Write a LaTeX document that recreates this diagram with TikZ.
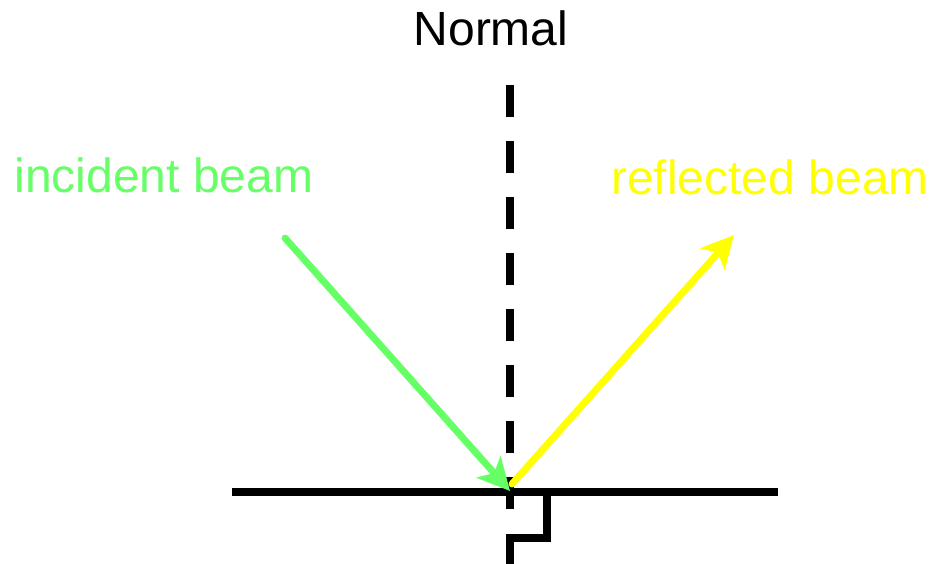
\documentclass[tikz,border=0pt]{standalone}
\usepackage{fontspec}
\setmainfont{Liberation Sans}
\usetikzlibrary{arrows.meta}
\definecolor{incgreen}{HTML}{66FF66}
\definecolor{refyellow}{HTML}{FFFF00}
\begin{document}
\begin{tikzpicture}[x=1pt,y=-1pt,
  lbl/.style={font=\fontsize{48}{50}\selectfont, inner sep=0pt},
  beam/.style={line width=7pt, line cap=round, -{Stealth[length=32pt,width=32pt,inset=8pt]}},
  solidline/.style={line width=8pt, black}]
\useasboundingbox (0,0) rectangle (945,564);
\node[lbl, text=black] (normal) at (491,28) {Normal};
\node[lbl, text=incgreen] (inc) at (164,175) {incident beam};
\node[lbl, text=refyellow] (ref) at (770,177) {reflected beam};
\coordinate (ntop) at (510,85);
\coordinate (nbot) at (510,520);
\coordinate (sl) at (232,492);
\coordinate (sr) at (778,492);
\coordinate (hit) at (510,491);
\coordinate (istart) at (285,238);
\coordinate (rend) at (734,235);
\coordinate (rstart) at (512,484);
\coordinate (m1) at (547,492);
\coordinate (m2) at (547,538);
\coordinate (m3) at (510,538);
\coordinate (m4) at (510,564);
\draw[line width=8pt, black, dash pattern=on 32pt off 24pt] (ntop) -- (nbot);
\draw[solidline] (sl) -- (sr);
\draw[solidline] (m1) -- (m2) -- (m3) -- (m4);
\draw[beam, incgreen] (istart) -- (hit);
\draw[beam, refyellow] (rstart) -- (rend);
\end{tikzpicture}
\end{document}
